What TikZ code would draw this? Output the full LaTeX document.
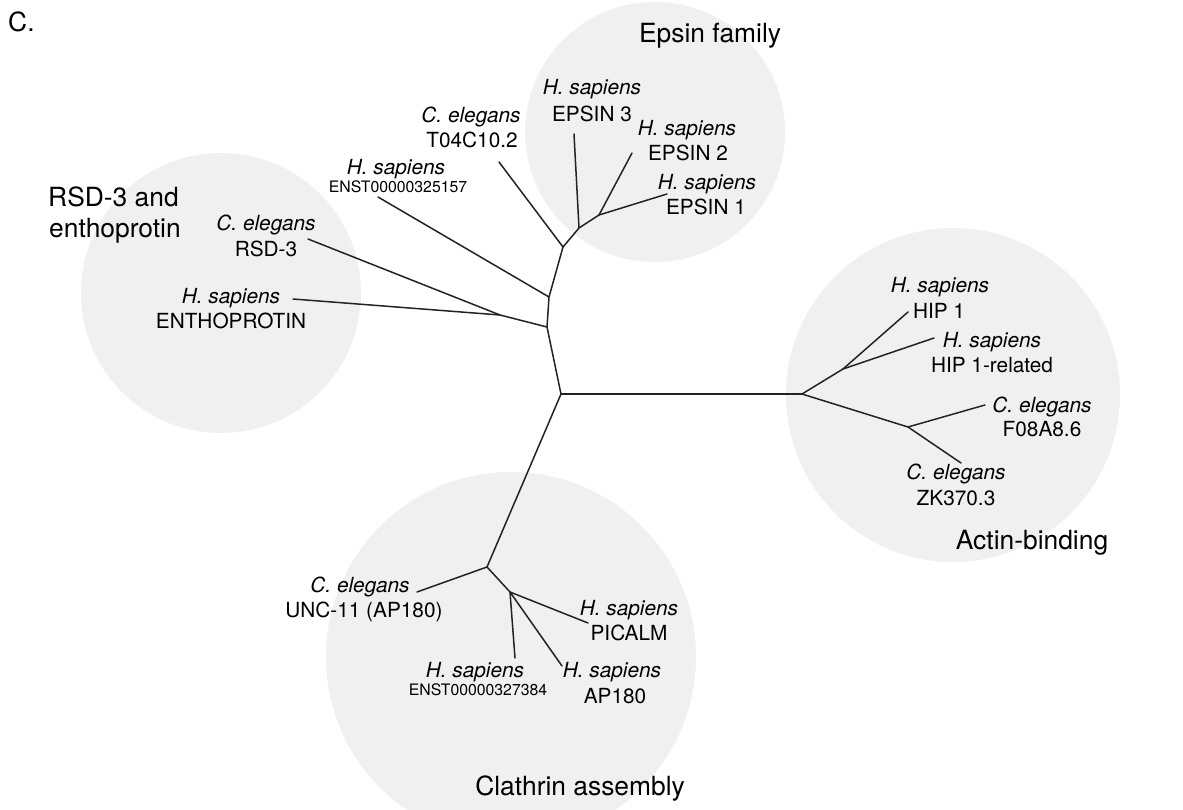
\documentclass[tikz,border=0pt]{standalone}
\usepackage{fontspec}
\setmainfont{TeX Gyre Heros}
\definecolor{circfill}{RGB}{240,240,240}
\definecolor{branch}{RGB}{35,35,35}
\begin{document}
\begin{tikzpicture}[x=1pt,y=-1pt,
  group/.style={fill=circfill,draw=none},
  edge/.style={draw=branch,line width=1.5pt,line cap=round,line join=round},
  sp/.style={inner sep=0pt,anchor=base,font=\fontsize{20.8}{24}\selectfont\itshape},
  idt/.style={inner sep=0pt,anchor=base,font=\fontsize{20.8}{24}\selectfont},
  idsmall/.style={inner sep=0pt,anchor=base,font=\fontsize{15.8}{18}\selectfont},
  ttl/.style={inner sep=0pt,anchor=base,font=\fontsize{26.4}{30}\selectfont}]
\useasboundingbox (0,0) rectangle (1183,810);
\fill[white] (0,0) rectangle (1183,810);
% group circles
\begin{scope}
\clip (0,0) rectangle (1183,810);
\fill[group] (221,293) circle (140);
\fill[group] (655,132) circle (130);
\fill[group] (953,395) circle (167);
\fill[group] (511,657) circle (185);
\end{scope}
% tree coordinates
\coordinate (R) at (561,394);
\coordinate (A) at (802,394);
\coordinate (J1) at (547,327);
\coordinate (Jre) at (500,315);
\coordinate (lRSD) at (308,239);
\coordinate (lENTH) at (293,299);
\coordinate (J2) at (549,297);
\coordinate (lE325) at (378,197);
\coordinate (J3) at (563,247);
\coordinate (lT04) at (499,162);
\coordinate (J4) at (579,228);
\coordinate (lEP3) at (574,134);
\coordinate (J5) at (599,215);
\coordinate (lEP2) at (632,153);
\coordinate (lEP1) at (667,194);
\coordinate (J6) at (843,369);
\coordinate (lHIP1) at (908,312);
\coordinate (lHIPR) at (934,338);
\coordinate (J7) at (908,427);
\coordinate (lF08) at (985,405);
\coordinate (lZK) at (961,463);
\coordinate (J8) at (487,567);
\coordinate (lUNC) at (417,592);
\coordinate (J9) at (510,592);
\coordinate (lPIC) at (588,623);
\coordinate (lAP) at (562,666);
\coordinate (lE384) at (515,658);
% branches
\draw[edge] (R) -- (A);
\draw[edge] (R) -- (J1) -- (J2) -- (J3) -- (J4) -- (J5);
\draw[edge] (J1) -- (Jre);
\draw[edge] (Jre) -- (lRSD);
\draw[edge] (Jre) -- (lENTH);
\draw[edge] (J2) -- (lE325);
\draw[edge] (J3) -- (lT04);
\draw[edge] (J4) -- (lEP3);
\draw[edge] (J5) -- (lEP2);
\draw[edge] (J5) -- (lEP1);
\draw[edge] (A) -- (J6);
\draw[edge] (J6) -- (lHIP1);
\draw[edge] (J6) -- (lHIPR);
\draw[edge] (A) -- (J7);
\draw[edge] (J7) -- (lF08);
\draw[edge] (J7) -- (lZK);
\draw[edge] (R) -- (J8);
\draw[edge] (J8) -- (lUNC);
\draw[edge] (J8) -- (J9);
\draw[edge] (J9) -- (lPIC);
\draw[edge] (J9) -- (lAP);
\draw[edge] (J9) -- (lE384);
% titles
\node[ttl,anchor=base west] (tC) at (8,32) {C.};
\node[ttl] (tEpsin) at (710,43) {Epsin family};
\node[ttl,anchor=base west] (tRSD1) at (48,207) {RSD-3 and};
\node[ttl,anchor=base west] (tRSD2) at (49,238) {enthoprotin};
\node[ttl] (tActin) at (1032,549) {Actin-binding};
\node[ttl] (tClath) at (580,795) {Clathrin assembly};
% leaf labels
\node[sp] (sRSD) at (266,231) {C. elegans};
\node[idt] (iRSD) at (266,257) {RSD-3};
\node[sp] (sENTH) at (231,303) {H. sapiens};
\node[idt] (iENTH) at (231,328) {ENTHOPROTIN};
\node[sp] (sE325) at (396,175) {H. sapiens};
\node[idsmall] (iE325) at (398,193) {ENST00000325157};
\node[sp] (sT04) at (471,123) {C. elegans};
\node[idt] (iT04) at (472,148) {T04C10.2};
\node[sp] (sEP3) at (592,95) {H. sapiens};
\node[idt] (iEP3) at (592,122) {EPSIN 3};
\node[sp] (sEP2) at (687,136) {H. sapiens};
\node[idt] (iEP2) at (688,161) {EPSIN 2};
\node[sp] (sEP1) at (707,190) {H. sapiens};
\node[idt] (iEP1) at (706,215) {EPSIN 1};
\node[sp] (sHIP1) at (940,293) {H. sapiens};
\node[idt] (iHIP1) at (939,318) {HIP 1};
\node[sp] (sHIPR) at (992,347) {H. sapiens};
\node[idt] (iHIPR) at (992,372) {HIP 1-related};
\node[sp] (sF08) at (1042,412) {C. elegans};
\node[idt] (iF08) at (1042,436) {F08A8.6};
\node[sp] (sZK) at (956,479) {C. elegans};
\node[idt] (iZK) at (956,505) {ZK370.3};
\node[sp] (sUNC) at (360,592) {C. elegans};
\node[idt] (iUNC) at (364,617) {UNC-11 (AP180)};
\node[sp] (sPIC) at (629,615) {H. sapiens};
\node[idt] (iPIC) at (629,640) {PICALM};
\node[sp] (sE384) at (475,677) {H. sapiens};
\node[idsmall] (iE384) at (478,695) {ENST00000327384};
\node[sp] (sAP) at (612,677) {H. sapiens};
\node[idt] (iAP) at (615,703) {AP180};
\end{tikzpicture}
\end{document}
